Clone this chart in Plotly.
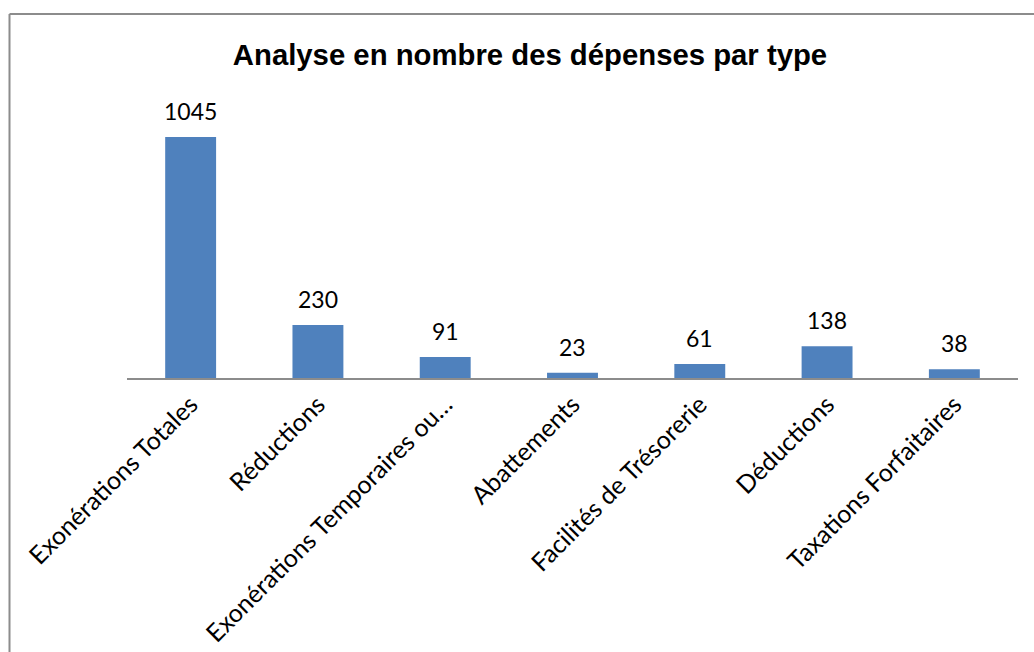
import plotly.graph_objects as go

categories = ["Exonérations Totales", "Réductions", "Exonérations Temporaires ou…",
              "Abattements", "Facilités de Trésorerie", "Déductions", "Taxations Forfaitaires"]
values = [1045, 230, 91, 23, 61, 138, 38]
title_text = "Analyse en nombre des dépenses par type"

W, H = 1034, 652
ml, mr, mt, mb = 127, 16, 90, 274
pw = W - ml - mr
ph = H - mt - mb

fig = go.Figure()
fig.add_trace(go.Bar(x=categories, y=values, marker=dict(color="#4F81BD", line=dict(width=0)),
                     hoverinfo="x+y"))

for c, v in zip(categories, values):
    fig.add_annotation(x=c, y=v, text=str(v), showarrow=False, yanchor="bottom",
                       yshift=10, font=dict(family="Lato", size=23, color="#000000"))

def px_x(p):
    return (p - ml) / pw

def px_y(p):
    return (H - mb - p) / ph

# outer chart frame (top and left visible)
fig.add_shape(type="line", xref="paper", yref="paper", x0=px_x(9.5), x1=px_x(1040),
              y0=px_y(14), y1=px_y(14), line=dict(color="#8C8C8C", width=2))
fig.add_shape(type="line", xref="paper", yref="paper", x0=px_x(9.5), x1=px_x(9.5),
              y0=px_y(14), y1=px_y(700), line=dict(color="#8C8C8C", width=2))

fig.update_layout(
    width=W, height=H,
    margin=dict(l=ml, r=mr, t=mt, b=mb, autoexpand=False),
    paper_bgcolor="white", plot_bgcolor="white",
    bargap=0.6,
    showlegend=False,
    title=dict(text="<b>" + title_text + "</b>", x=530 / W, xref="container", xanchor="center",
               y=1 - 55 / H, yref="container", yanchor="middle",
               font=dict(family="Arial", size=29.3, color="#000000")),
    xaxis=dict(showline=True, linecolor="#8C8C8C", linewidth=2, ticks="", tickangle=-45,
               tickfont=dict(family="Lato", size=25, color="#000000"), showgrid=False,
               automargin=False),
    yaxis=dict(visible=False, range=[0, 1249], showgrid=False, zeroline=False),
)

fig.write_html("out.html", config={"displayModeBar": False},
               post_script="document.body.style.margin='0px';document.body.style.overflow='hidden';")
